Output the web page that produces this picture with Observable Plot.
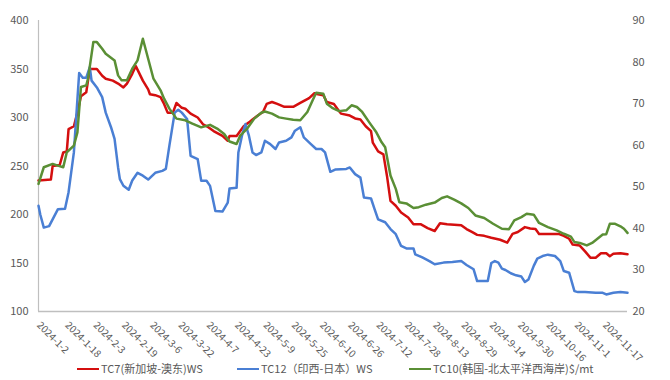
<!DOCTYPE html>
<html>
<head>
<meta charset="utf-8">
<script src="https://cdn.jsdelivr.net/npm/d3@7"></script>
<script src="https://cdn.jsdelivr.net/npm/@observablehq/plot@0.6"></script>
<style>
  html, body { margin: 0; padding: 0; background: #ffffff; }
  body { width: 670px; height: 380px; position: relative; overflow: hidden;
         font-family: "Noto Sans CJK SC", "Noto Sans", "Liberation Sans", sans-serif; }
  #chart { position: absolute; left: 0; top: 0; }
  .leg { position: absolute; top: 361px; height: 14px; line-height: 14px; font-size: 11px; color: #595959; white-space: nowrap; }
  .leg .sw { display: inline-block; width: 22px; height: 0; border-top: 2.5px solid; vertical-align: middle; margin-right: 2px; position: relative; top: -1px; }
</style>
</head>
<body>
<div id="chart"></div>
<div id="legend"></div>
<script>
// ---------- data ----------
const tc7Dates = ["1-2","1-9","1-10","1-14","1-16","1-18","1-19","1-22","1-24","1-26","1-29","1-30","1-31","2-4","2-7","2-9","2-13","2-16","2-19","2-21","2-24","2-26","3-1","3-4","3-5","3-8","3-11","3-13","3-15","3-18","3-20","3-23","3-25","3-28","4-1","4-4","4-7","4-10","4-15","4-18","4-19","4-23","4-27","4-30","5-2","5-5","5-8","5-10","5-13","5-16","5-20","5-25","5-29","6-3","6-6","6-8","6-11","6-13","6-17","6-21","6-26","6-29","7-2","7-5","7-8","7-9","7-12","7-15","7-17","7-19","7-22","7-25","7-29","8-1","8-5","8-9","8-13","8-16","8-20","8-28","8-31","9-3","9-6","9-10","9-14","9-19","9-23","9-26","9-29","10-3","10-6","10-9","10-11","10-16","10-22","10-25","10-28","10-30","11-3","11-6","11-9","11-12","11-15","11-18","11-20","11-22","11-26","11-30"];
const tc7Values = [235,236,250,251,264,265,288,291,305,322,326,338,350,350,343,340,338,335,331,335,345,353,338,329,324,323,321,314,305,305,315,310,309,304,300,293,290,286,281,276,281,281,291,295,298,302,306,314,316,314,311,311,315,320,325,324,323,316,314,304,302,299,298,291,286,274,265,262,240,214,209,202,197,190,190,186,183,191,190,189,185,182,179,178,176,174,171,180,182,187,185.5,185,180,180,180,178,175,169,168,162,155.5,155.5,160,160,157,159.5,160,159];

const tc12Dates = ["1-2","1-3","1-5","1-8","1-13","1-17","1-19","1-22","1-25","1-27","1-29","1-31","2-1","2-4","2-7","2-9","2-12","2-14","2-16","2-17","2-19","2-22","2-24","2-27","3-1","3-4","3-8","3-12","3-14","3-16","3-19","3-21","3-23","3-26","3-28","4-1","4-3","4-6","4-8","4-11","4-15","4-18","4-19","4-23","4-24","4-26","4-28","4-30","5-2","5-4","5-7","5-9","5-12","5-15","5-17","5-21","5-24","5-26","5-29","5-31","6-4","6-7","6-10","6-12","6-15","6-18","6-24","6-26","6-29","7-2","7-4","7-8","7-10","7-12","7-16","7-19","7-22","7-25","7-28","8-1","8-2","8-6","8-10","8-13","8-18","8-23","8-28","8-31","9-4","9-6","9-12","9-14","9-16","9-18","9-20","9-22","9-25","9-28","10-1","10-3","10-5","10-8","10-10","10-13","10-16","10-20","10-23","10-25","10-28","10-31","11-2","11-6","11-12","11-16","11-18","11-22","11-26","11-30"];
const tc12Values = [209,200,186.5,188,205.5,206,223,264,346,341,341,352,338,331,321,305,290,278,248.5,236.5,229.6,225.5,235,243,240,236,243,245,247,271,305,308,305,298.5,260.5,257,234.7,234.7,229.5,203.7,203,212.3,226.8,227.5,264,281,293.3,281,264,261.3,264,276,272.6,267.5,274.3,276,279.5,286.4,290,279.5,272.6,267.5,267.5,264,244,246.5,247,248.5,241.6,238,217.5,216.5,205.5,195,192,185,179.7,167.6,165,165,159,155.7,152,148.7,150.4,151,152,148,143.5,131.4,131.4,150,152,150.3,144.2,142.8,139.4,137.3,136,130.4,133,147,154.5,157.2,158.6,157.2,152,141.7,140,121,120,120,119.3,119.3,117.6,119.3,120,119.3];

const tc10Dates = ["1-2","1-5","1-10","1-13","1-16","1-18","1-22","1-24","1-26","1-29","1-30","2-2","2-4","2-7","2-9","2-14","2-16","2-18","2-21","2-24","2-27","3-1","3-4","3-7","3-11","3-13","3-16","3-20","3-25","3-29","4-3","4-8","4-12","4-16","4-19","4-23","4-25","4-29","5-3","5-7","5-9","5-13","5-17","5-21","5-25","5-29","6-2","6-5","6-7","6-11","6-13","6-16","6-20","6-24","6-27","6-30","7-3","7-7","7-11","7-14","7-16","7-19","7-22","7-24","7-28","8-1","8-4","8-8","8-13","8-17","8-20","8-24","8-28","9-1","9-5","9-10","9-15","9-20","9-24","9-27","10-1","10-4","10-8","10-11","10-16","10-21","10-25","10-29","10-31","11-3","11-7","11-10","11-13","11-16","11-18","11-20","11-23","11-26","11-28","11-30"];
const tc10Values = [50.7,54.7,55.5,55.1,54.7,58.3,59.9,63.1,74,74.4,76,84.8,84.8,83.2,82,80.4,76.8,75.6,75.6,78.4,80.4,85.6,80.8,76,73.2,71.2,68.8,66.4,66,65.2,64.3,64.9,64,62.7,60.9,60.3,62.3,64,66.4,67.8,68.1,67.6,66.7,66.4,66.1,66,68,70.8,72.6,72.4,70,69,68.2,68.4,69.6,69.2,68,65.5,63.1,60.7,59.5,52.7,49.5,46.3,46,44.9,45.1,45.7,46.2,47.3,47.7,46.9,46,44.9,43.1,42.5,41.1,39.9,39.8,41.9,42.7,43.5,43.3,41.3,40.3,39.5,38.7,38,36.7,36.5,35.9,36.5,37.5,38.5,38.6,41.1,41.1,40.5,39.9,38.9];

const tickDates = ["1-2","1-18","2-3","2-19","3-6","3-22","4-7","4-23","5-9","5-25","6-10","6-26","7-12","7-28","8-13","8-29","9-14","9-30","10-16","11-1","11-17"];
const leftTicks = [100,150,200,250,300,350,400];
const rightTicks = [20,30,40,50,60,70,80,90];
const seriesNames = ["TC7(新加坡-澳东)WS", "TC12（印西-日本）WS", "TC10(韩国-北太平洋西海岸)$/mt"];
const seriesColors = ["#d40f0f", "#4a7fd4", "#5a8f35"];
const xStart = "1-2", xEnd = "11-30";

// ---------- helpers ----------
const parseMD = s => { const [m, d] = s.split("-").map(Number); return new Date(2024, m - 1, d); };
const leftMin = 100, leftMax = 400, rightMin = 20, rightMax = 90;
const rightToLeft = v => leftMin + (v - rightMin) * (leftMax - leftMin) / (rightMax - rightMin);
const leftToRight = v => rightMin + (v - leftMin) * (rightMax - rightMin) / (leftMax - leftMin);

const tc7 = tc7Dates.map((d, i) => ({date: parseMD(d), v: tc7Values[i]}));
const tc12 = tc12Dates.map((d, i) => ({date: parseMD(d), v: tc12Values[i]}));
const tc10 = tc10Dates.map((d, i) => ({date: parseMD(d), v: rightToLeft(tc10Values[i])}));
const ticks = tickDates.map(parseMD);
const fmt = d => `2024-${d.getMonth() + 1}-${d.getDate()}`;

const axisColor = "#bfbfbf";
const textColor = "#595959";

const chart = Plot.plot({
  width: 670,
  height: 360,
  marginLeft: 38,
  marginRight: 43,
  marginTop: 20,
  marginBottom: 49,
  style: { fontFamily: '"Noto Sans CJK SC","Noto Sans",sans-serif', background: "#ffffff", overflow: "visible" },
  x: { type: "time", domain: [parseMD(xStart), parseMD(xEnd)], label: null },
  y: { domain: [leftMin, leftMax], label: null },
  marks: [
    Plot.ruleX([parseMD(xStart)], { stroke: axisColor, strokeWidth: 1.2 }),
    Plot.ruleY([leftMin], { stroke: axisColor, strokeWidth: 1.5 }),
    Plot.axisY(leftTicks, { anchor: "left", tickSize: 0, tickPadding: 10, fontSize: 11, fill: textColor, label: null }),
    Plot.axisY(rightTicks.map(rightToLeft), { anchor: "right", tickSize: 0, tickPadding: 5, fontSize: 11, fill: textColor, label: null,
      tickFormat: d => String(Math.round(leftToRight(d))) }),
    Plot.axisX(ticks, { anchor: "bottom", tickSize: 0, tickPadding: 12, tickRotate: 45, fontSize: 10, fill: textColor, label: null,
      tickFormat: fmt }),
    Plot.line(tc7, { x: "date", y: "v", stroke: seriesColors[0], strokeWidth: 2.5, strokeLinejoin: "round" }),
    Plot.line(tc12, { x: "date", y: "v", stroke: seriesColors[1], strokeWidth: 2.5, strokeLinejoin: "round" }),
    Plot.line(tc10, { x: "date", y: "v", stroke: seriesColors[2], strokeWidth: 2.5, strokeLinejoin: "round" })
  ]
});
document.getElementById("chart").appendChild(chart);

// ---------- legend ----------
const legendLefts = [77, 237, 409];
const legend = document.getElementById("legend");
seriesNames.forEach((name, i) => {
  const item = document.createElement("div");
  item.className = "leg";
  item.style.left = legendLefts[i] + "px";
  const sw = document.createElement("span");
  sw.className = "sw";
  sw.style.borderTopColor = seriesColors[i];
  item.appendChild(sw);
  item.appendChild(document.createTextNode(name));
  legend.appendChild(item);
});
</script>
</body>
</html>
